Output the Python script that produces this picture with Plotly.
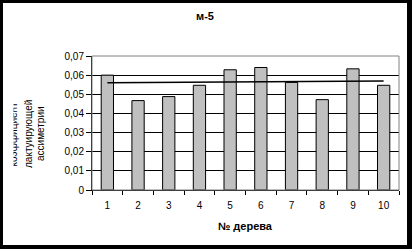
import plotly.graph_objects as go

categories = ["1", "2", "3", "4", "5", "6", "7", "8", "9", "10"]
values = [0.060, 0.0467, 0.0488, 0.0547, 0.0628, 0.0640, 0.0562, 0.0472, 0.0633, 0.0547]
trend_x = ["1", "10"]
trend_y = [0.0560, 0.0569]
y_ticks = [0, 0.01, 0.02, 0.03, 0.04, 0.05, 0.06, 0.07]
y_tick_labels = ["0", "0,01", "0,02", "0,03", "0,04", "0,05", "0,06", "0,07"]
title_text = "м-5"
x_title = "№ дерева"
y_title_lines = ["коэффициент", "лактуирующей", "ассиметрии"]

FONT = "Liberation Sans, Arial, sans-serif"

W, H = 412, 249
L, R, T, B = 92, 13, 56, 59
pw, ph = W - L - R, H - T - B


def px(x):
    return (x - L) / pw


def py(y):
    return (H - B - y) / ph


fig = go.Figure()
fig.add_trace(go.Bar(
    x=categories, y=values, width=0.4,
    marker=dict(color="#c0c0c0", line=dict(color="black", width=1)),
    showlegend=False, hoverinfo="skip",
))
fig.add_trace(go.Scatter(
    x=trend_x, y=trend_y, mode="lines",
    line=dict(color="black", width=1.5),
    showlegend=False, hoverinfo="skip",
))

shapes = [
    dict(type="rect", xref="paper", yref="paper", layer="below",
         x0=px(3), x1=px(407), y0=py(245), y1=py(3),
         fillcolor="white", line=dict(width=0)),
    dict(type="rect", xref="paper", yref="paper", layer="above",
         x0=0, x1=1, y0=0, y1=1, fillcolor="rgba(0,0,0,0)",
         line=dict(color="#808080", width=1)),
]

annotations = [
    dict(text="<b>" + title_text + "</b>", xref="paper", yref="paper",
         x=px(205), y=py(16), xanchor="center", yanchor="middle", showarrow=False,
         font=dict(family=FONT, size=11, color="black")),
    dict(text="<b>" + x_title + "</b>", xref="paper", yref="paper",
         x=0.5, y=py(226), xanchor="center", yanchor="middle", showarrow=False,
         font=dict(family=FONT, size=11, color="black")),
]
for line, cx in zip(y_title_lines, [12.5, 28, 40]):
    annotations.append(dict(
        text=line, xref="paper", yref="paper", x=px(cx), y=py(134),
        xanchor="center", yanchor="middle",
        textangle=-90, showarrow=False,
        font=dict(family=FONT, size=10, color="black")))
# white cover clipping the first title line
annotations.append(dict(
    text=" ", xref="paper", yref="paper", x=px(3), y=py(134),
    xanchor="left", yanchor="middle",
    width=9, height=110, bgcolor="white", showarrow=False,
    font=dict(size=9), borderpad=0))

fig.update_layout(
    width=W, height=H,
    margin=dict(l=L, r=R, t=T, b=B, pad=0),
    paper_bgcolor="black",
    plot_bgcolor="white",
    font=dict(family=FONT, size=10, color="black"),
    shapes=shapes,
    annotations=annotations,
    bargap=0.6,
    xaxis=dict(
        type="category", categoryorder="array", categoryarray=categories,
        range=[-0.5, len(categories) - 0.5],
        showline=True, linecolor="black", linewidth=1,
        ticks="outside", tickson="boundaries", ticklen=4, tickcolor="black",
        ticklabelstandoff=6,
        showgrid=False, zeroline=False,
        tickfont=dict(family=FONT, size=10, color="black"),
    ),
    yaxis=dict(
        range=[0, 0.07], tickmode="array", tickvals=y_ticks, ticktext=y_tick_labels,
        showline=True, linecolor="black", linewidth=1,
        ticks="outside", ticklen=5, tickcolor="black",
        showgrid=True, gridcolor="black", gridwidth=1, zeroline=False,
        tickfont=dict(family=FONT, size=10, color="black"),
    ),
)

fig.write_html("out.html")
